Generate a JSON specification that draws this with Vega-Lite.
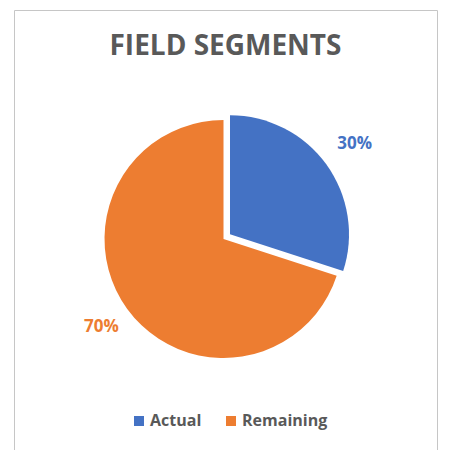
{
  "$schema": "https://vega.github.io/schema/vega-lite/v6.json",
  "autosize": {"type": "none"},
  "padding": {"left": 14, "top": 10, "right": 12, "bottom": 0},
  "width": 423,
  "height": 460,
  "background": "white",
  "view": {"stroke": "#C6C6C6", "strokeWidth": 1, "fill": "white"},
  "title": {
    "text": "FIELD SEGMENTS",
    "orient": "top",
    "anchor": "middle",
    "frame": "group",
    "offset": -47,
    "dy": 26,
    "baseline": "alphabetic",
    "font": "Open Sans",
    "fontSize": 28,
    "fontWeight": "bold",
    "color": "#595959"
  },
  "data": {
    "values": [
      {"category": "Actual", "value": 0.3},
      {"category": "Remaining", "value": 0.7}
    ]
  },
  "encoding": {
    "theta": {"field": "value", "type": "quantitative", "stack": true},
    "color": {
      "field": "category",
      "type": "nominal",
      "scale": {"domain": ["Actual", "Remaining"], "range": ["#4472C4", "#ED7D31"]},
      "legend": {
        "orient": "none",
        "legendX": 117,
        "legendY": 403,
        "direction": "horizontal",
        "title": null,
        "symbolType": "square",
        "symbolSize": 100,
        "symbolStrokeWidth": 0,
        "labelFont": "Open Sans",
        "labelFontSize": 16,
        "labelFontWeight": "bold",
        "labelColor": "#595959",
        "labelOffset": 3,
        "columnPadding": 21
      }
    }
  },
  "layer": [
    {
      "mark": {"type": "arc", "outerRadius": 119, "xOffset": -2, "yOffset": -1},
      "encoding": {"opacity": {"condition": {"test": "datum.category === 'Remaining'", "value": 1}, "value": 0}}
    },
    {
      "mark": {"type": "arc", "outerRadius": 119, "xOffset": 4.5, "yOffset": -5.7},
      "encoding": {"opacity": {"condition": {"test": "datum.category === 'Actual'", "value": 1}, "value": 0}}
    },
    {
      "mark": {"type": "text", "radius": 151, "xOffset": -2, "yOffset": -2, "font": "Open Sans", "fontWeight": "bold", "fontSize": 17},
      "encoding": {
        "text": {"field": "value", "format": ".0%"},
        "opacity": {"condition": {"test": "datum.category === 'Remaining'", "value": 1}, "value": 0}
      }
    },
    {
      "mark": {"type": "text", "radius": 154, "xOffset": 4.5, "yOffset": -5, "font": "Open Sans", "fontWeight": "bold", "fontSize": 17},
      "encoding": {
        "text": {"field": "value", "format": ".0%"},
        "opacity": {"condition": {"test": "datum.category === 'Actual'", "value": 1}, "value": 0}
      }
    }
  ]
}
